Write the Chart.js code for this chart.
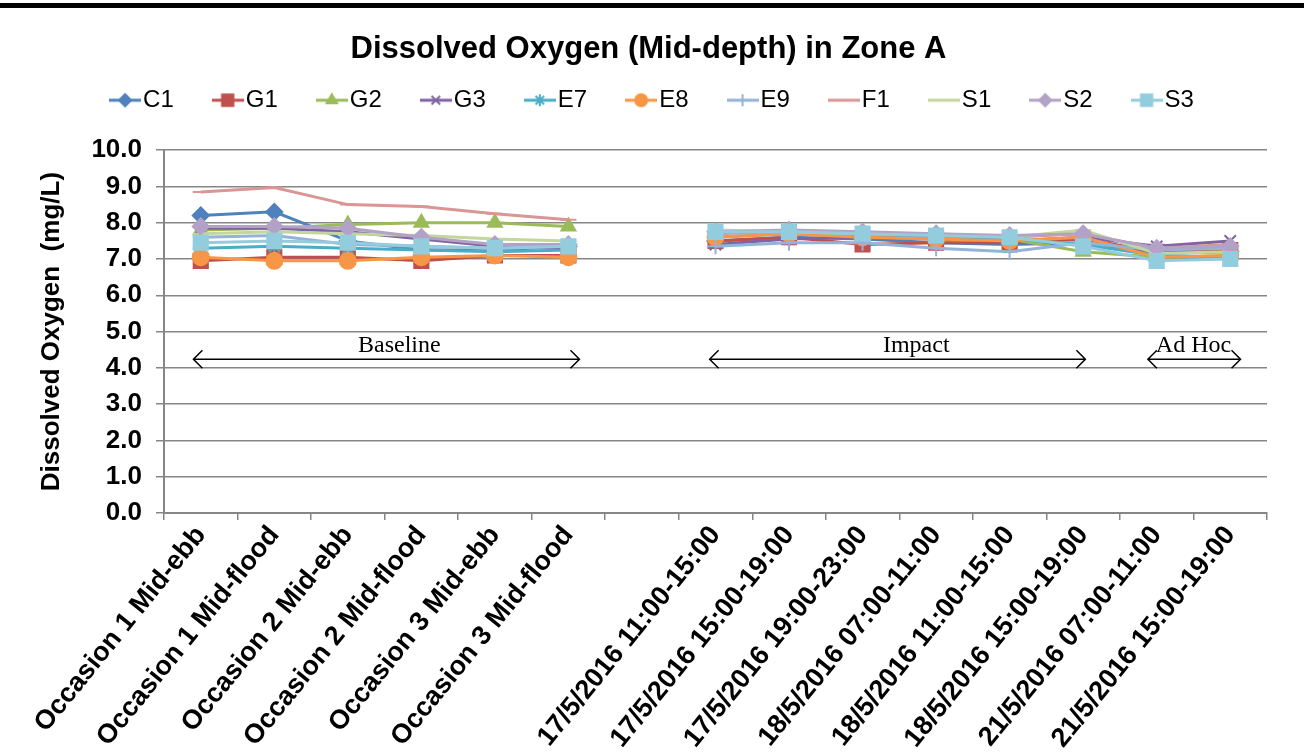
<!DOCTYPE html>
<html>
<head>
<meta charset="utf-8">
<script src="https://cdn.jsdelivr.net/npm/chart.js@4.4.1/dist/chart.umd.min.js"></script>
<style>
html, body { margin: 0; padding: 0; background: #fff; }
#wrap { position: relative; width: 1304px; height: 756px; }
#topline { position: absolute; left: 0; top: 3px; width: 1304px; height: 5px; background: #000; }
</style>
</head>
<body>
<div id="wrap">
<canvas id="chart" width="1304" height="756"></canvas>
<div id="topline"></div>
</div>
<script>
// categorías del eje x (la vacía separa Baseline de Impact)
const categorias = [
  'Occasion 1 Mid-ebb', 'Occasion 1 Mid-flood', 'Occasion 2 Mid-ebb',
  'Occasion 2 Mid-flood', 'Occasion 3 Mid-ebb', 'Occasion 3 Mid-flood', '',
  '17/5/2016 11:00-15:00', '17/5/2016 15:00-19:00', '17/5/2016 19:00-23:00',
  '18/5/2016 07:00-11:00', '18/5/2016 11:00-15:00', '18/5/2016 15:00-19:00',
  '21/5/2016 07:00-11:00', '21/5/2016 15:00-19:00'
];

// valores de oxígeno disuelto (mg/L) por estación
const C1 = [8.2, 8.3, 7.5, 7.25, 7.25, 7.35, null, 7.5, 7.6, 7.55, 7.45, 7.4, 7.45, 7.15, 7.2];
const G1 = [6.95, 7.05, 7.05, 6.95, 7.1, 7.1, null, 7.5, 7.6, 7.4, 7.45, 7.45, 7.55, 7.2, 7.25];
const G2 = [7.8, 7.85, 7.95, 8.0, 8.0, 7.9, null, 7.75, 7.7, 7.65, 7.6, 7.55, 7.2, 7.05, 7.1];
const G3 = [7.85, 7.85, 7.75, 7.55, 7.35, 7.3, null, 7.4, 7.55, 7.6, 7.55, 7.5, 7.6, 7.35, 7.5];
const E7 = [7.3, 7.35, 7.3, 7.25, 7.2, 7.25, null, 7.6, 7.7, 7.65, 7.6, 7.55, 7.4, 7.1, 7.05];
const E8 = [7.05, 6.95, 6.95, 7.05, 7.1, 7.05, null, 7.6, 7.7, 7.6, 7.55, 7.5, 7.6, 7.05, 7.1];
const E9 = [7.6, 7.65, 7.4, 7.35, 7.3, 7.35, null, 7.35, 7.45, 7.45, 7.3, 7.2, 7.45, 7.25, 7.3];
const F1 = [8.85, 8.97, 8.5, 8.45, 8.25, 8.08, null, 7.7, 7.75, 7.7, 7.65, 7.6, 7.7, 7.3, 7.4];
const S1 = [7.7, 7.75, 7.7, 7.65, 7.55, 7.5, null, 7.8, 7.75, 7.7, 7.7, 7.6, 7.8, 7.15, 7.2];
const S2 = [7.9, 7.9, 7.85, 7.6, 7.4, 7.4, null, 7.75, 7.8, 7.75, 7.7, 7.65, 7.7, 7.3, 7.35];
const S3 = [7.45, 7.5, 7.45, 7.35, 7.3, 7.35, null, 7.75, 7.75, 7.7, 7.65, 7.6, 7.35, 6.95, 7.0];

const nombres = ['C1', 'G1', 'G2', 'G3', 'E7', 'E8', 'E9', 'F1', 'S1', 'S2', 'S3'];
const valores = [C1, G1, G2, G3, E7, E8, E9, F1, S1, S2, S3];
const colores = ['#4F81BD', '#C0504D', '#9BBB59', '#8064A2', '#4BACC6', '#F79646',
                 '#95B3D7', '#D99694', '#C3D69B', '#B3A2C7', '#93CDDD'];
const marcadores = ['rectRot', 'rect', 'triangle', 'crossRot', 'star', 'circle',
                    'cross', 'line', 'line', 'rectRot', 'rect'];

// periodos marcados con flechas (posición en índices de categoría)
const periodos = ['Baseline', 'Impact', 'Ad Hoc'];
const periodoInicio = [-0.1, 6.92, 12.88];
const periodoFin = [5.15, 12.03, 14.14];
const periodoTexto = [2.7, 9.73, 13.5];
const flechaY = 4.24;
const textoY = 4.6;

const fuente = '"Liberation Sans", Arial, sans-serif';
const gris = '#868686';

function radio(estilo) {
  return estilo === 'rect' ? 10 : 8;
}

// icono de leyenda estilo Excel: línea con marcador
function iconoLeyenda(color, estilo) {
  const c = document.createElement('canvas');
  c.width = 32; c.height = 20;
  const g = c.getContext('2d');
  g.strokeStyle = color; g.fillStyle = color; g.lineWidth = 3;
  g.beginPath(); g.moveTo(0, 10); g.lineTo(32, 10); g.stroke();
  if (estilo !== 'line' && Chart.helpers && Chart.helpers.drawPoint) {
    g.lineWidth = 2;
    Chart.helpers.drawPoint(g, {pointStyle: estilo, radius: radio(estilo) - 2, borderWidth: 2}, 16, 10);
  }
  return c;
}

const flechas = {
  id: 'flechas',
  afterDatasetsDraw(chart) {
    const {ctx, scales: {x, y}} = chart;
    ctx.save();
    ctx.strokeStyle = '#000';
    ctx.fillStyle = '#000';
    ctx.lineWidth = 1.5;
    ctx.font = '24px "Liberation Serif", "Times New Roman", serif';
    ctx.textAlign = 'center';
    ctx.textBaseline = 'middle';
    const py = y.getPixelForValue(flechaY);
    periodos.forEach((p, i) => {
      const x0 = x.getPixelForValue(periodoInicio[i]);
      const x1 = x.getPixelForValue(periodoFin[i]);
      ctx.beginPath();
      ctx.moveTo(x0, py); ctx.lineTo(x1, py);
      ctx.moveTo(x0 + 9, py - 9); ctx.lineTo(x0, py); ctx.lineTo(x0 + 9, py + 9);
      ctx.moveTo(x1 - 9, py - 9); ctx.lineTo(x1, py); ctx.lineTo(x1 - 9, py + 9);
      ctx.stroke();
      ctx.fillText(p, x.getPixelForValue(periodoTexto[i]), y.getPixelForValue(textoY));
    });
    ctx.restore();
  }
};

// altura fija de la leyenda y pequeño corrimiento a la derecha de título y leyenda
const altoLeyenda = {
  id: 'altoLeyenda',
  beforeInit(chart) {
    const fitOriginal = chart.legend.fit;
    chart.legend.fit = function () {
      fitOriginal.call(this);
      this.height = 110;
    };
  },
  afterLayout(chart) {
    chart.legend.left += 23;
    chart.legend.right += 23;
    if (chart.titleBlock) {
      chart.titleBlock.left += 15;
      chart.titleBlock.right += 15;
    }
  }
};

const ctx = document.getElementById('chart');

new Chart(ctx, {
  type: 'line',
  data: {
    labels: categorias,
    datasets: nombres.map((n, i) => ({
      label: n,
      data: valores[i],
      borderColor: colores[i],
      backgroundColor: colores[i],
      pointBackgroundColor: colores[i],
      pointBorderColor: colores[i],
      pointStyle: marcadores[i],
      pointRadius: radio(marcadores[i]),
      pointBorderWidth: 2,
      borderWidth: 3,
      tension: 0,
      spanGaps: false,
      order: nombres.length - i
    }))
  },
  options: {
    responsive: false,
    animation: false,
    layout: { padding: { top: 8, right: 37, left: 0, bottom: 0 } },
    plugins: {
      tooltip: { enabled: false },
      title: {
        display: true,
        text: 'Dissolved Oxygen (Mid-depth) in Zone A',
        color: '#000',
        font: { family: fuente, size: 31, weight: 'bold' },
        padding: { top: 23, bottom: -28 }
      },
      legend: {
        position: 'top',
        labels: {
          color: '#000',
          font: { family: fuente, size: 24 },
          usePointStyle: true,
          pointStyleWidth: 12,
          padding: 48,
          sort: (a, b) => a.datasetIndex - b.datasetIndex,
          generateLabels(chart) {
            const base = Chart.defaults.plugins.legend.labels.generateLabels(chart);
            return base.map(l => {
              const i = l.datasetIndex;
              l.pointStyle = iconoLeyenda(colores[i], marcadores[i]);
              return l;
            });
          }
        }
      }
    },
    scales: {
      x: {
        offset: true,
        afterFit(scale) { scale.height = 243; },
        grid: {
          display: true,
          offset: true,
          drawOnChartArea: false,
          drawTicks: true,
          tickLength: 7,
          color: gris,
          lineWidth: 1.5
        },
        border: { color: gris, width: 2 },
        ticks: {
          autoSkip: false,
          minRotation: 51,
          maxRotation: 51,
          color: '#000',
          padding: 0,
          font: { family: fuente, size: 27, weight: 'bold' }
        }
      },
      y: {
        min: 0,
        max: 10,
        afterFit(scale) { scale.width = 164; },
        grid: { color: gris, lineWidth: 1.5, tickLength: 8 },
        border: { color: gris, width: 2 },
        ticks: {
          stepSize: 1,
          color: '#000',
          padding: 14,
          font: { family: fuente, size: 26, weight: 'bold' },
          callback: v => Number(v).toFixed(1)
        },
        title: {
          display: true,
          text: 'Dissolved Oxygen  (mg/L)',
          color: '#000',
          font: { family: fuente, size: 26, weight: 'bold' },
          padding: { top: 36, bottom: 0 }
        }
      }
    }
  },
  plugins: [flechas, altoLeyenda]
});
</script>
</body>
</html>
